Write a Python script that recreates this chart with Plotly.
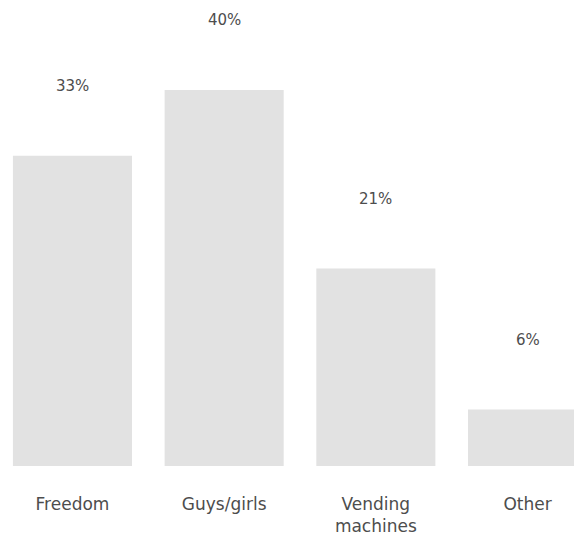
import plotly.graph_objects as go

categories = ["Freedom", "Guys/girls", "Vending<br>machines", "Other"]
values = [33, 40, 21, 6]
value_labels = ["33%", "40%", "21%", "6%"]

BAR_COLOR = "#e2e2e2"
TEXT_COLOR = "#4d4d4d"
FONT = "DejaVu Sans"

fig = go.Figure(
    go.Bar(
        x=categories,
        y=values,
        marker=dict(color=BAR_COLOR, line=dict(width=0)),
        hoverinfo="skip",
    )
)

for cat, v, lab in zip(categories, values, value_labels):
    fig.add_annotation(
        x=cat, y=v, text=lab, showarrow=False, yshift=70,
        font=dict(family=FONT, size=15, color=TEXT_COLOR),
        xanchor="center", yanchor="middle",
    )

# page body adds an 8px offset; figure sized to fill the remaining window
fig.update_layout(
    width=574,
    height=529,
    margin=dict(l=0, r=0, t=0, b=71),
    paper_bgcolor="white",
    plot_bgcolor="white",
    bargap=0.215,
    showlegend=False,
    font=dict(family=FONT, color=TEXT_COLOR),
)
fig.update_xaxes(
    type="category",
    range=[-0.425, 3.359],
    showgrid=False,
    showline=False,
    zeroline=False,
    ticks="",
    ticklabelstandoff=26,
    tickfont=dict(family=FONT, size=17, color=TEXT_COLOR),
)
fig.update_yaxes(
    range=[0, 48.72],
    showgrid=False,
    showline=False,
    zeroline=False,
    showticklabels=False,
    ticks="",
)

fig.write_html("out.html")
